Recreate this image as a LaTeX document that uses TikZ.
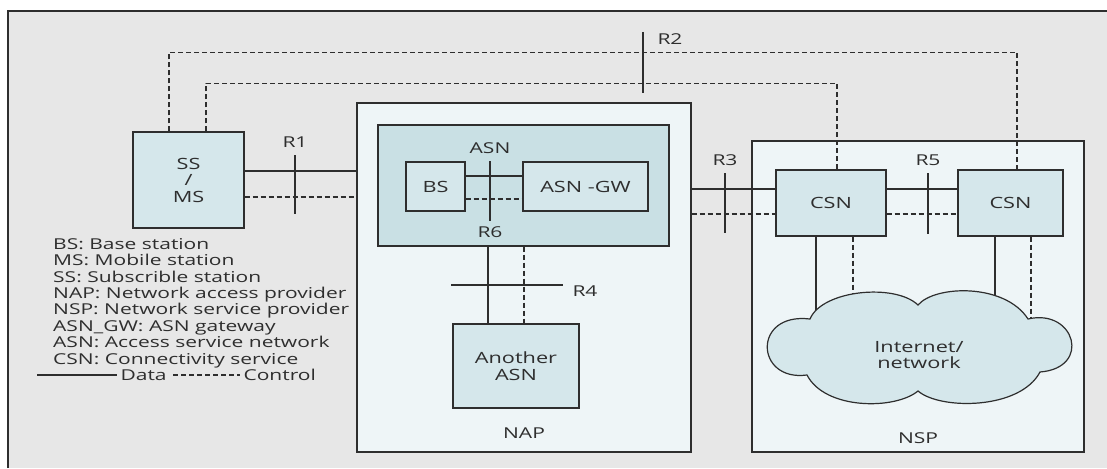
\documentclass[tikz,border=0pt]{standalone}
\usepackage{fontspec}
\setmainfont[FakeStretch=1.4]{Open Sans}
\usepackage{tikz}

\definecolor{framegrey}{HTML}{E7E7E7}
\definecolor{boxblue}{HTML}{D5E7EB}
\definecolor{asnblue}{HTML}{C9E0E4}
\definecolor{areablue}{HTML}{EEF5F7}
\definecolor{inkgrey}{HTML}{2E2E2E}

\begin{document}
\begin{tikzpicture}[x=1pt,y=-1pt,
  every node/.style={text=inkgrey,font=\fontsize{15}{16.4}\selectfont},
  box/.style={draw=inkgrey,fill=boxblue,line width=1.2pt,inner sep=0pt,align=center,font=\fontsize{15.5}{16.5}\selectfont},
  data/.style={draw=inkgrey,line width=1.2pt},
  ctrl/.style={draw=inkgrey,line width=1.2pt,dash pattern=on 5pt off 3pt}]
\useasboundingbox (0,0) rectangle (1107,468);
\fill[white] (0,0) rectangle (1107,468);
\fill[framegrey] (8,11) rectangle (1107,468);
\draw[line width=1.2pt,draw=inkgrey] (8,468) -- (8,11) -- (1107,11);

% provider areas
\node[box,fill=areablue,minimum width=334pt,minimum height=349pt] (nap) at (524,277.5) {};
\node[box,fill=areablue,minimum width=332pt,minimum height=311pt] (nsp) at (918,296.5) {};
\node[box,fill=asnblue,minimum width=291pt,minimum height=121pt] (asn) at (523.5,185.5) {};
\node (naplbl) at ([yshift=19pt]nap.south) {NAP};
\node (nsplbl) at ([yshift=14pt]nsp.south) {NSP};

% entities
\node[box,minimum width=111pt,minimum height=96pt] (ssms) at (188.5,180) {SS\\/\\MS};
\node[box,minimum width=59pt,minimum height=49pt] (bs) at (435.5,186.5) {BS};
\node[box,minimum width=125pt,minimum height=49pt] (gw) at (585.5,186.5) {ASN -GW};
\node[box,minimum width=126pt,minimum height=84pt] (another) at (516,366) {Another\\ASN};
\node[box,minimum width=110pt,minimum height=66pt] (csnA) at (831,203) {CSN};
\node[box,minimum width=105pt,minimum height=66pt] (csnB) at (1010.5,203) {CSN};

% control paths over the top (R2)
\draw[ctrl] ([xshift=-19.5pt]ssms.north) -- ++(0,-79) -| ([xshift=6.5pt]csnB.north);
\draw[ctrl] ([xshift=17.5pt]ssms.north) -- ++(0,-48) -| ([xshift=6pt]csnA.north);

% R1
\draw[data] ([yshift=9pt]ssms.east) -- ([yshift=9pt]ssms.east -| nap.west);
\draw[ctrl] ([yshift=-17pt]ssms.east) -- ([yshift=-17pt]ssms.east -| nap.west);
% R6
\draw[data] ([yshift=10.5pt]bs.east) -- ([yshift=10.5pt]bs.east -| gw.west);
\draw[ctrl] ([yshift=-12.5pt]bs.east) -- ([yshift=-12.5pt]bs.east -| gw.west);
% R3
\draw[data] ([yshift=14pt]nap.east |- csnA.west) -- ([yshift=14pt]csnA.west);
\draw[ctrl] ([yshift=-11pt]nap.east |- csnA.west) -- ([yshift=-11pt]csnA.west);
% R5
\draw[data] ([yshift=14pt]csnA.east) -- ([yshift=14pt]csnB.west);
\draw[ctrl] ([yshift=-11pt]csnA.east) -- ([yshift=-11pt]csnB.west);
% R4
\draw[data] ([xshift=-28pt]asn.south -| another.north) -- ([xshift=-28pt]another.north);
\draw[ctrl] ([xshift=8pt]asn.south -| another.north) -- ([xshift=8pt]another.north);

% CSN down to the cloud, the cloud covers the ends
\draw[data] ([xshift=-15pt]csnA.south) -- ++(0,100);
\draw[ctrl] ([xshift=22pt]csnA.south) -- ++(0,100);
\draw[data] ([xshift=-15.5pt]csnB.south) -- ++(0,100);
\draw[ctrl] ([xshift=20.5pt]csnB.south) -- ++(0,100);
\filldraw[draw=inkgrey,fill=boxblue,line width=1.2pt] (810,319)
  .. controls (822,290) and (895,283) .. (918,305)
  .. controls (935,285) and (1005,283) .. (1028,319)
  .. controls (1075,308) and (1092,368) .. (1040,372)
  .. controls (1020,410) and (940,410) .. (918,391)
  .. controls (895,410) and (825,410) .. (807,375)
  .. controls (755,382) and (752,312) .. cycle;
\node[align=center,inner sep=0pt,font=\fontsize{15.5}{16.5}\selectfont] (net) at (919,355) {Internet/\\network};

% reference point ticks
\node (r1) at (295,142) {R1};
\draw[data] (295,155) -- (295,214);
\node (r2) at (670,39) {R2};
\draw[data] (643,32) -- (643,93);
\node (r3) at (725,160) {R3};
\draw[data] (725,173) -- (725,233);
\node (r5) at (928,160) {R5};
\draw[data] (928,173) -- (928,234);
\node (asnlbl) at (490,148) {ASN};
\node (r6) at (490,232) {R6};
\draw[data] (490,161) -- (490,221);
\draw[data] (451,285) -- (563,285);
\node (r4) at (585,291) {R4};

% legend
\node[anchor=north west,align=left,inner sep=0pt] (legend) at (53,238) {BS: Base station\\MS: Mobile station\\SS: Subscrible station\\NAP: Network access provider\\NSP: Network service provider\\ASN\_GW: ASN gateway\\ASN: Access service network\\CSN: Connectivity service};
\node[anchor=west] (datatxt) at (117,375) {Data};
\node[anchor=west] (ctrltxt) at (240,375) {Control};
\coordinate (datastart) at (37,375);
\coordinate (ctrlstart) at (173,375);
\draw[data] (datastart) -- (datatxt.west);
\draw[ctrl] (ctrlstart) -- (ctrltxt.west);
\end{tikzpicture}
\end{document}
